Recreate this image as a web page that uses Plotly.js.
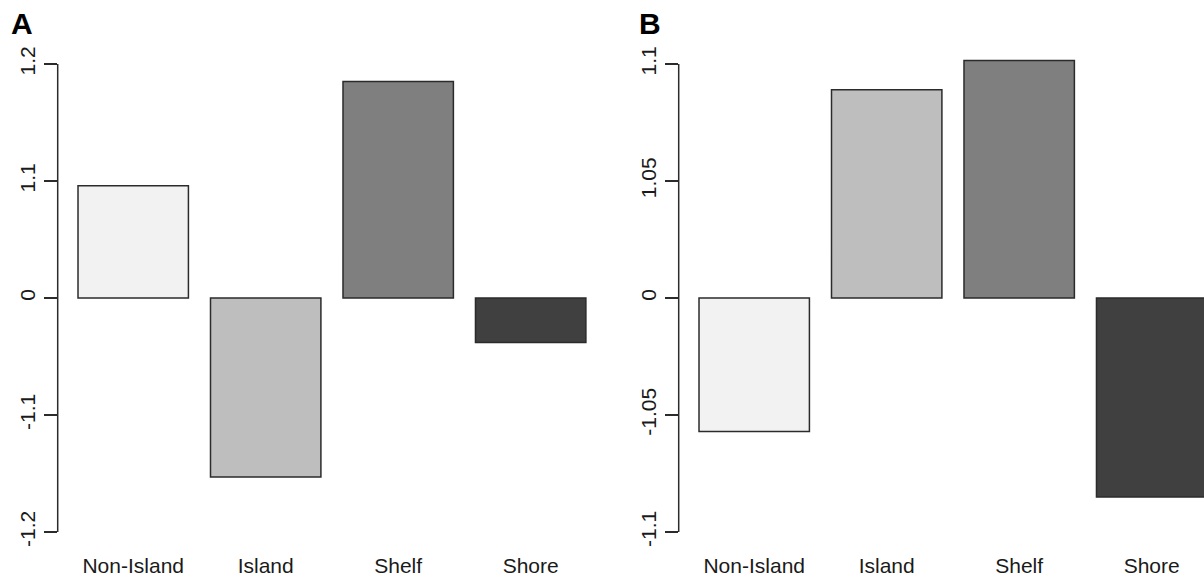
<!DOCTYPE html>
<html>
<head>
<meta charset="utf-8">
<script src="https://cdn.plot.ly/plotly-3.0.1.min.js"></script>
<style>
html,body{margin:0;padding:0;background:#fff;}
#chart{width:1204px;height:580px;}
</style>
</head>
<body>
<div id="chart"></div>
<script>
// Categories and values (in axis position units: one unit per labelled tick)
const categories = ['Non-Island', 'Island', 'Shelf', 'Shore'];
const valuesA = [0.96, -1.53, 1.85, -0.38];
const valuesB = [-1.14, 1.78, 2.03, -1.70];
const tickVals = [-2, -1, 0, 1, 2];
const tickTextA = ['-1.2', '-1.1', '0', '1.1', '1.2'];
const tickTextB = ['-1.1', '-1.05', '0', '1.05', '1.1'];
const barColors = ['#f2f2f2', '#bebebe', '#7f7f7f', '#404040'];
const panelLabels = ['A', 'B'];

const W = 1204, H = 580;
const domA = [57.7 / W, 606.2 / W];
const domB = [678.7 / W, 1];
const yDom = [42.15 / H, 551.1 / H];
const yRange = [-2.05, 2.3];

const font = 'Liberation Sans, Arial, Helvetica, sans-serif';
const lineCol = '#2b2b2b';

function bar(vals, xa, ya) {
  return {
    type: 'bar', x: categories, y: vals, xaxis: xa, yaxis: ya,
    marker: {color: barColors, line: {color: lineCol, width: 1.5}},
    showlegend: false, hoverinfo: 'x+y'
  };
}

const xCommon = {
  type: 'category', showline: false, zeroline: false, showgrid: false,
  ticks: '', ticklabelstandoff: 13, fixedrange: true,
  tickfont: {family: font, size: 21, color: '#1a1a1a'}
};
const yCommon = {
  range: yRange, domain: yDom, showline: false, zeroline: false, showgrid: false,
  ticks: 'outside', ticklen: 13, tickwidth: 1.5, tickcolor: lineCol,
  tickangle: -90, tickvals: tickVals, fixedrange: true,
  tickfont: {family: font, size: 21, color: '#1a1a1a'}
};

const layout = {
  width: W, height: H,
  margin: {l: 0, r: 0, t: 0, b: 0},
  paper_bgcolor: '#fff', plot_bgcolor: '#fff',
  bargap: 1 - 1 / 1.2,
  xaxis: Object.assign({}, xCommon, {domain: domA, anchor: 'y', range: [-0.57, 3.57]}),
  yaxis: Object.assign({}, yCommon, {anchor: 'x', ticktext: tickTextA}),
  xaxis2: Object.assign({}, xCommon, {domain: domB, anchor: 'y2', range: [-0.57, 3.395]}),
  yaxis2: Object.assign({}, yCommon, {anchor: 'x2', ticktext: tickTextB}),
  shapes: [
    {type: 'line', xref: 'paper', x0: domA[0], x1: domA[0], yref: 'y', y0: -2, y1: 2,
     line: {color: lineCol, width: 1.5}},
    {type: 'line', xref: 'paper', x0: domB[0], x1: domB[0], yref: 'y2', y0: -2, y1: 2,
     line: {color: lineCol, width: 1.5}}
  ],
  annotations: [
    {text: '<b>' + panelLabels[0] + '</b>', xref: 'paper', yref: 'paper', x: 22 / W, y: 1 - 23 / H,
     showarrow: false, xanchor: 'center', yanchor: 'middle',
     font: {family: font, size: 30, color: '#000'}},
    {text: '<b>' + panelLabels[1] + '</b>', xref: 'paper', yref: 'paper', x: 650 / W, y: 1 - 23 / H,
     showarrow: false, xanchor: 'center', yanchor: 'middle',
     font: {family: font, size: 30, color: '#000'}}
  ]
};

Plotly.newPlot('chart', [bar(valuesA, 'x', 'y'), bar(valuesB, 'x2', 'y2')], layout,
  {displayModeBar: false, staticPlot: true});
</script>
</body>
</html>
